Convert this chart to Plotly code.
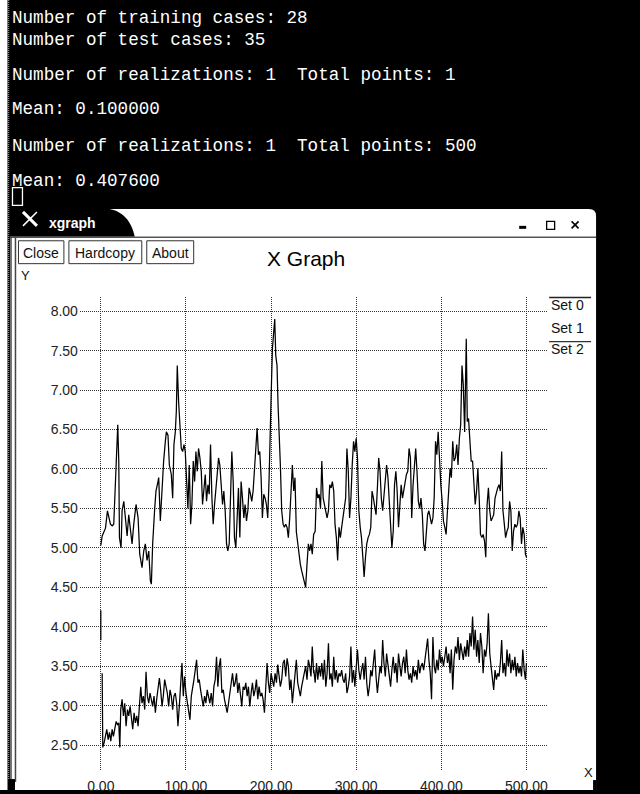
import plotly.graph_objects as go

W, H = 640, 794

# ---------------- data ----------------
set0_x = [0.0, 0.0]
set0_y = [4.21, 3.83]

set1_x = [
    0.0, 1.6, 5.5, 7.8, 11.3, 13.3, 15.2, 16.4, 18.0, 19.9,
    21.1, 21.9, 23.8, 25.0, 27.0, 28.9, 30.9, 32.8, 34.8, 36.7,
    38.7, 41.4, 43.8, 45.7, 48.4, 50.4, 52.3, 54.3, 56.3, 58.2,
    59.4, 60.9, 63.3, 64.8, 66.4, 68.0, 69.9, 71.9, 73.8, 75.8,
    77.0, 78.9, 80.5, 82.8, 84.4, 85.9, 87.5, 88.7, 89.8, 91.4,
    93.0, 94.5, 96.1, 97.7, 99.2, 100.8, 102.3, 103.9, 105.5, 107.0,
    108.6, 110.2, 111.7, 113.3, 114.8, 116.4, 118.0, 119.5, 121.1, 122.7,
    124.2, 125.8, 127.3, 128.9, 130.5, 132.0, 133.6, 135.2, 136.7, 138.3,
    139.8, 141.4, 143.0, 144.5, 146.1, 147.7, 149.2, 150.8, 152.3, 153.9,
    155.5, 157.0, 158.6, 160.2, 161.7, 163.3, 164.8, 166.4, 168.0, 169.5,
    171.1, 172.7, 174.2, 175.8, 177.3, 178.9, 180.5, 182.0, 183.6, 185.2,
    186.7, 188.3, 189.8, 191.4, 193.0, 194.5, 196.1, 197.7, 199.2, 200.0,
    201.6, 203.1, 204.3, 205.5, 207.0, 208.2, 209.4, 210.9, 212.5, 214.1,
    215.6, 217.2, 218.8, 220.3, 221.9, 223.4, 225.0, 226.6, 228.1, 229.7,
    231.3, 232.8, 234.4, 235.9, 237.5, 239.1, 240.6, 242.2, 243.8, 245.3,
    246.9, 248.4, 250.0,
    251.8, 253.4, 254.9, 256.5, 258.1, 259.6, 261.2, 262.7, 264.3, 265.8,
    267.4, 268.9, 270.5, 272.0, 273.6, 275.1, 276.7, 278.2, 279.8, 281.4,
    282.9, 284.5, 286.0, 287.6, 289.1, 290.7, 292.2, 293.8, 295.3, 296.9,
    298.4, 300.0, 301.5, 303.1, 304.7, 306.2, 307.8, 309.3, 310.9, 312.4,
    314.0, 315.5, 317.1, 318.6, 320.2, 321.7, 323.3, 324.9, 326.4, 328.0,
    329.5, 331.1, 332.6, 334.2, 335.7, 337.3, 338.8, 340.4, 341.9, 343.5,
    345.0, 346.6, 348.1, 349.7, 351.3, 352.8, 354.4, 355.9, 357.5, 359.0,
    360.6, 362.1, 363.7, 365.2, 366.8, 368.3, 369.9, 371.4, 373.0, 374.6,
    376.1, 377.7, 379.2, 380.8, 382.3, 383.9, 385.4, 387.0, 388.5, 390.1,
    391.6, 393.2, 394.7, 396.3, 397.9, 399.4, 401.0, 402.5, 404.1, 405.6,
    407.2, 408.7, 410.3, 411.8, 413.4, 414.9, 416.5, 418.1, 419.6, 421.2,
    422.7, 424.3, 425.8, 427.4, 428.1, 429.3, 430.5, 432.0, 433.6, 435.1,
    436.7, 438.2, 439.8, 441.4, 442.9, 444.5, 446.0, 447.6, 449.1, 450.7,
    452.2, 453.8, 455.3, 456.9, 458.4, 460.0, 461.5, 463.1, 464.7, 466.2,
    467.8, 469.3, 470.9, 472.4, 474.0, 475.5, 477.1, 478.6, 480.2, 481.7,
    483.3, 484.8, 486.4, 488.0, 489.5, 491.1, 492.6, 494.2, 495.7, 497.3,
    498.8, 500.0,
]
set1_y = [
    5.03, 5.15, 5.25, 5.47, 5.30, 5.28, 5.30, 5.67, 6.05, 6.56,
    6.10, 5.13, 5.00, 5.47, 5.59, 5.38, 5.15, 5.42, 5.20, 5.05,
    5.30, 5.55, 5.38, 4.92, 4.75, 4.96, 5.05, 4.84, 4.96, 4.58,
    4.54, 5.05, 5.50, 5.72, 5.80, 5.89, 5.34, 5.80, 6.10, 6.35,
    6.47, 6.43, 6.05, 5.93, 5.63, 6.31, 6.47, 6.73, 7.31, 6.85,
    6.47, 6.26, 6.22, 6.31, 6.22, 5.72, 5.50, 6.05, 5.30, 5.55,
    6.10, 5.84, 6.22, 5.97, 6.26, 6.14, 5.97, 5.55, 5.76, 5.93,
    5.59, 5.80, 5.68, 6.31, 5.63, 5.30, 5.55, 5.80, 5.93, 6.14,
    6.05, 5.80, 5.55, 5.72, 5.47, 5.05, 4.96, 5.05, 5.50, 6.22,
    5.84, 5.13, 5.00, 5.55, 5.76, 5.13, 5.84, 5.63, 5.38, 5.55,
    5.34, 5.47, 5.76, 5.68, 5.59, 5.72, 5.97, 6.31, 6.52, 6.18,
    6.22, 5.89, 5.38, 5.68, 5.63, 5.55, 5.38, 5.89, 6.39, 6.90,
    7.53, 7.70, 7.90, 7.44, 7.31, 6.81, 6.52, 6.05, 5.47, 5.30,
    5.26, 5.30, 5.26, 5.13, 5.38, 5.80, 6.05, 5.72, 5.89, 5.20,
    5.05, 4.92, 4.79, 4.71, 4.63, 4.54, 4.50, 4.79, 5.05, 4.96,
    5.05, 4.92, 5.17,
    5.21, 5.76, 5.63, 5.68, 5.50, 6.10, 5.63, 5.55, 5.50, 5.38,
    5.47, 5.80, 5.76, 5.84, 5.72, 5.30, 5.13, 4.84, 5.26, 5.13,
    5.26, 5.38, 5.55, 5.63, 6.26, 5.97, 5.38, 5.63, 6.05, 6.35,
    6.22, 6.39, 6.14, 5.47, 5.26, 5.13, 4.88, 4.63, 4.88, 5.05,
    5.13, 5.17, 5.26, 5.72, 5.63, 5.50, 5.42, 5.76, 6.14, 5.97,
    5.63, 5.47, 5.63, 5.80, 6.05, 5.89, 5.55, 5.17, 5.00, 5.21,
    5.80, 5.97, 5.72, 5.26, 5.55, 5.80, 5.63, 5.72, 5.80, 5.93,
    5.97, 6.26, 6.14, 5.38, 5.80, 6.10, 6.26, 5.97, 5.59, 5.50,
    5.63, 5.42, 5.05, 4.96, 5.17, 5.42, 5.47, 5.38, 5.30, 5.38,
    5.63, 6.35, 6.18, 6.47, 6.10, 5.80, 5.59, 5.34, 5.26, 5.17,
    5.47, 5.80, 6.01, 5.89, 6.35, 6.10, 6.14, 6.31, 6.05, 6.39,
    6.56, 7.31, 7.06, 6.47, 7.10, 7.65, 6.60, 6.64, 6.35, 6.10,
    6.10, 5.76, 5.55, 5.72, 6.01, 5.63, 5.17, 5.13, 5.17, 5.09,
    4.88, 5.55, 5.76, 5.47, 5.34, 5.38, 5.42, 5.63, 5.72, 5.76,
    5.80, 5.72, 6.22, 5.47, 5.30, 5.13, 5.21, 5.26, 5.59, 5.47,
    4.96, 5.21, 5.30, 5.26, 5.30, 5.47, 5.38, 5.05, 5.26, 5.17,
    4.92, 4.88,
]

set2_x = [
    1.6, 2.3, 3.9, 5.5, 7.0, 8.6, 10.2, 11.7, 13.3, 14.8,
    16.4, 18.0, 19.5, 21.1, 22.3, 23.4, 25.0, 26.6, 28.1, 29.7,
    31.3, 32.8, 34.4, 35.9, 37.5, 39.1, 40.6, 42.2, 43.8, 45.3,
    46.9, 48.4, 50.0, 51.6, 53.1, 54.7, 56.3, 57.8, 59.4, 60.9,
    62.5, 64.1, 65.6, 67.2, 68.8, 70.3, 71.9, 73.4, 75.0, 76.6,
    78.1, 79.7, 81.3, 82.8, 84.4, 85.9, 87.5, 89.1, 90.6, 92.2,
    93.8, 95.3, 96.9, 98.4, 100.0, 101.6, 103.1, 104.7, 106.3, 107.8,
    109.4, 110.9, 112.5, 114.1, 115.6, 117.2, 118.8, 120.3, 121.9, 123.4,
    125.0, 126.6, 128.1, 129.7, 131.3, 132.8, 134.4, 135.9, 137.5, 139.1,
    140.6, 142.2, 143.8, 145.3, 146.9, 148.4, 150.0, 151.6, 153.1, 154.7,
    156.3, 157.8, 159.4, 160.9, 162.5, 164.1, 165.6, 167.2, 168.8, 170.3,
    171.9, 173.4, 175.0, 176.6, 178.1, 179.7, 181.3, 182.8, 184.4, 185.9,
    187.5, 189.1, 190.6, 192.2, 193.8, 195.3, 196.9, 198.4, 200.0, 201.6,
    203.1, 204.7, 206.3, 207.8, 209.4, 210.9, 212.5, 214.1, 215.6, 217.2,
    218.8, 220.3, 221.9, 223.4, 225.0, 226.6, 228.1, 229.7, 231.3, 232.8,
    234.4, 235.9, 237.5, 239.1, 240.6, 242.2, 243.8, 245.3, 246.9, 248.4,
    250.0,
    250.3, 251.8, 253.4, 254.9, 256.5, 258.1, 259.6, 261.2, 262.7, 264.3,
    265.8, 267.4, 268.9, 270.5, 272.0, 273.6, 275.1, 276.7, 278.2, 279.8,
    281.4, 282.9, 284.5, 286.0, 287.6, 289.1, 290.7, 292.2, 293.8, 295.3,
    296.9, 298.4, 300.0, 301.5, 303.1, 304.7, 306.2, 307.8, 309.3, 310.9,
    312.4, 314.0, 315.5, 317.1, 318.6, 320.2, 321.7, 323.3, 324.9, 326.4,
    328.0, 329.5, 331.1, 332.6, 334.2, 335.7, 337.3, 338.8, 340.4, 341.9,
    343.5, 345.0, 346.6, 348.1, 349.7, 351.3, 352.8, 354.4, 355.9, 357.5,
    359.0, 360.6, 362.1, 363.7, 365.2, 366.8, 368.3, 369.9, 371.4, 373.0,
    374.6, 376.1, 377.7, 379.2, 380.8, 382.3, 383.9, 385.4, 387.0, 388.5,
    390.1, 391.6, 393.2, 394.7, 396.3, 397.9, 399.4, 401.0, 402.5, 404.1,
    405.6, 407.2, 408.7, 410.3, 411.8, 413.4, 414.9, 416.5, 418.1, 419.6,
    421.2, 422.7, 424.3, 425.8, 427.4, 428.9, 430.5, 432.0, 433.6, 435.1,
    436.7, 438.2, 439.8, 441.4, 442.9, 444.5, 446.0, 447.6, 449.1, 450.7,
    452.2, 453.8, 455.3, 456.9, 458.4, 460.0, 461.5, 463.1, 464.7, 466.2,
    467.8, 469.3, 470.9, 472.4, 474.0, 475.5, 477.1, 478.6, 480.2, 481.7,
    483.3, 484.8, 486.4, 488.0, 489.5, 491.1, 492.6, 494.2, 495.7, 497.3,
    498.8, 500.0,
]
set2_y = [
    3.41, 2.47, 2.53, 2.61, 2.70, 2.57, 2.66, 2.55, 2.70, 2.61,
    2.74, 2.80, 2.76, 2.78, 2.47, 2.95, 3.08, 2.87, 3.03, 2.74,
    2.95, 2.87, 2.99, 2.82, 2.70, 2.91, 2.78, 2.87, 2.74, 2.99,
    3.24, 3.03, 3.12, 2.95, 3.43, 3.12, 3.03, 3.16, 3.08, 2.99,
    3.12, 2.91, 3.08, 3.24, 3.35, 3.20, 2.99, 3.12, 3.33, 3.24,
    3.16, 2.99, 3.20, 3.12, 2.95, 3.12, 3.16, 3.03, 2.74, 2.99,
    3.33, 3.54, 3.12, 3.37, 3.16, 3.03, 2.95, 2.82, 3.12, 3.20,
    3.33, 3.45, 3.58, 3.29, 3.33, 3.20, 3.08, 2.99, 3.12, 3.03,
    3.20, 3.12, 3.03, 3.16, 2.99, 3.24, 3.33, 3.62, 3.24, 3.50,
    3.60, 3.16, 3.20, 3.08, 2.99, 2.91, 3.03, 3.16, 3.33, 3.41,
    3.24, 3.29, 3.41, 3.16, 3.29, 3.12, 2.99, 3.24, 3.20, 3.29,
    3.12, 3.24, 2.99, 3.16, 3.29, 3.12, 3.20, 3.33, 3.08, 3.24,
    3.12, 3.16, 3.08, 2.91, 3.20, 3.54, 3.29, 3.16, 3.41, 3.33,
    3.24, 3.41, 3.29, 3.52, 3.37, 3.24, 3.33, 3.54, 3.58, 3.37,
    3.60, 3.50, 3.20, 3.33, 3.03, 3.24, 3.37, 3.58, 3.29, 3.20,
    3.12, 3.24, 3.33, 3.41, 3.50, 3.33, 3.58, 3.50, 3.37, 3.75,
    3.41,
    3.45, 3.29, 3.54, 3.33, 3.50, 3.37, 3.54, 3.33, 3.58, 3.24,
    3.41, 3.79, 3.33, 3.41, 3.24, 3.62, 3.33, 3.45, 3.29, 3.41,
    3.37, 3.45, 3.33, 3.29, 3.41, 3.16, 3.24, 3.37, 3.75, 3.29,
    3.45, 3.24, 3.50, 3.71, 3.45, 3.33, 3.45, 3.54, 3.33, 3.62,
    3.29, 3.12, 3.24, 3.45, 3.37, 3.54, 3.71, 3.37, 3.16, 3.33,
    3.50, 3.41, 3.83, 3.54, 3.37, 3.66, 3.50, 3.33, 3.24, 3.45,
    3.62, 3.41, 3.54, 3.29, 3.66, 3.50, 3.37, 3.54, 3.62, 3.41,
    3.71, 3.45, 3.33, 3.41, 3.29, 3.50, 3.37, 3.45, 3.33, 3.58,
    3.41, 3.50, 3.54, 3.45, 3.58, 3.71, 3.85, 3.58, 3.41, 3.08,
    3.87, 3.50, 3.41, 3.58, 3.45, 3.71, 3.54, 3.62, 3.50, 3.62,
    3.75, 3.54, 3.66, 3.41, 3.71, 3.20, 3.58, 3.75, 3.66, 3.87,
    3.58, 3.79, 3.66, 3.58, 3.75, 3.62, 3.83, 3.62, 3.92, 3.75,
    4.13, 3.71, 3.96, 3.62, 3.83, 3.54, 3.92, 3.75, 3.41, 3.71,
    3.62, 3.79, 4.17, 3.66, 3.50, 3.37, 3.20, 3.45, 3.33, 3.41,
    3.37, 3.54, 3.83, 3.41, 3.54, 3.37, 3.71, 3.50, 3.66, 3.41,
    3.58, 3.45, 3.62, 3.37, 3.54, 3.41, 3.50, 3.37, 3.71, 3.45,
    3.33, 3.54,
]

y_ticks = [2.5, 3.0, 3.5, 4.0, 4.5, 5.0, 5.5, 6.0, 6.5, 7.0, 7.5, 8.0]
x_ticks = [0, 100, 200, 300, 400, 500]
legend_names = ["Set 0", "Set 1", "Set 2"]

terminal_lines = [
    "Number of training cases: 28",
    "Number of test cases: 35",
    "Number of realizations: 1\u00a0 Total points: 1",
    "Mean: 0.100000",
    "Number of realizations: 1\u00a0 Total points: 500",
    "Mean: 0.407600",
]
buttons = ["Close", "Hardcopy", "About"]

# ---------------- helpers for pixel placement of decorations ----------------
def px(x):
    return x / W


def py(y):
    return 1 - y / H


def n2(a, b):
    n = min(len(a), len(b))
    return a[:n], b[:n]


fig = go.Figure()
LINE = dict(color="#000000", width=1.25)
for (xs, ys), name in zip([n2(set0_x, set0_y), n2(set1_x, set1_y), n2(set2_x, set2_y)], legend_names):
    fig.add_trace(go.Scatter(x=xs, y=ys, mode="lines", line=LINE, name=name,
                             showlegend=False, hoverinfo="skip"))

shapes = []


def rect(x0, y0, x1, y1, fill=None, line_color=None, lw=1, layer="below"):
    d = dict(type="rect", xref="paper", yref="paper",
             x0=px(x0), x1=px(x1), y0=py(y1), y1=py(y0), layer=layer)
    d["fillcolor"] = fill if fill else "rgba(0,0,0,0)"
    d["line"] = dict(color=line_color, width=lw) if line_color else dict(width=0)
    shapes.append(d)


def seg(x0, y0, x1, y1, color, lw=1, dash="solid", layer="below"):
    shapes.append(dict(type="line", xref="paper", yref="paper",
                       x0=px(x0), x1=px(x1), y0=py(y0), y1=py(y1),
                       line=dict(color=color, width=lw, dash=dash), layer=layer))


def path(points_cmds, fill, layer="below"):
    s = ""
    for cmd, pts in points_cmds:
        s += cmd + " " + " ".join(f"{px(a):.5f},{py(b):.5f}" for a, b in pts) + " "
    s += "Z"
    shapes.append(dict(type="path", xref="paper", yref="paper", path=s,
                       fillcolor=fill, line=dict(width=0), layer=layer))


# left white strip + dotted border
rect(0, 0, 7.5, 794, fill="#ffffff")
seg(8.5, 0, 8.5, 794, "#8a8a8a", 1.5, "1px,1px")
# window body (white, rounded top-right corner)
path([("M", [(10, 210)]), ("L", [(590, 210)]), ("Q", [(597, 210), (597, 217)]),
      ("L", [(597, 794)]), ("L", [(10, 794)])], "#ffffff")
# black title tab
path([("M", [(10, 209)]), ("L", [(100, 209)]), ("C", [(121, 209), (131, 220), (135, 238)]),
      ("L", [(10, 238)])], "#000000")
# title bar separator and left double border
seg(10, 238.5, 597, 238.5, "#555555", 1.5)
seg(11, 238, 11, 786, "#444444", 1.5)
seg(15.5, 238, 15.5, 786, "#444444", 1.5)
rect(8, 783, 15, 794, fill="#000000")
rect(594, 784, 597, 794, fill="#000000")
# window controls
rect(520, 227, 527, 230, fill="#000000")
rect(547.5, 222.5, 555.5, 230.5, line_color="#000000", lw=1.3)
seg(572.5, 222.5, 579.5, 229.5, "#000000", 1.6)
seg(579.5, 222.5, 572.5, 229.5, "#000000", 1.6)
# X logo in tab
seg(23, 213, 37, 227, "#ffffff", 3)
seg(37, 213, 23, 227, "#ffffff", 1.5)
# buttons
btn_boxes = [(18.5, 64), (69, 142), (147, 194)]
for (x0, x1) in btn_boxes:
    rect(x0, 242, x1, 265, line_color="#333333", lw=1)
# terminal cursor
rect(12.5, 188.5, 22.5, 206.5, line_color="#ffffff", lw=1.3)
# legend sample lines
seg(550, 299, 592, 299, "#222222", 1.3, layer="above")
seg(550, 343.3, 592, 343.3, "#333333", 1.3, layer="above")

annotations = []


def text(x, y, s, size, color="#000000", family="Liberation Sans", xanchor="left",
         bold=False):
    annotations.append(dict(xref="paper", yref="paper", x=px(x), y=py(y),
                            text=(f"<b>{s}</b>" if bold else s),
                            showarrow=False, xanchor=xanchor, yanchor="middle", borderpad=0,
                            font=dict(size=size, color=color, family=family)))


term_y = [18.5, 40, 75, 110, 147, 182]
for s, yy in zip(terminal_lines, term_y):
    text(11, yy, s, 17.6, "#ffffff", "Liberation Mono")

text(48, 224, "xgraph", 14, "#ffffff", bold=True)
for s, (x0, x1) in zip(buttons, btn_boxes):
    text((x0 + x1) / 2, 254, s, 14, "#111111", xanchor="center")
text(20, 277, "Y", 13, "#111111")
text(306, 260, "X Graph", 21, "#000000", xanchor="center")
text(589, 776, "X", 13, "#111111", xanchor="center")
leg_y = [306.5, 329.3, 351]
for s, yy in zip(legend_names, leg_y):
    text(551, yy, s, 14, "#111111")

AX_FONT = dict(family="Liberation Sans", size=14, color="#222222")
fig.update_layout(
    width=W, height=H,
    margin=dict(l=0, r=0, t=0, b=0),
    paper_bgcolor="#000000",
    plot_bgcolor="rgba(0,0,0,0)",
    shapes=shapes,
    annotations=annotations,
    showlegend=False,
    xaxis=dict(domain=[80 / W, 548 / W], range=[-24.6, 524.3],
               tickvals=x_ticks, ticktext=[f"{v:.2f}" for v in x_ticks],
               showgrid=True, gridcolor="#333333", gridwidth=1, griddash="1px,1px",
               zeroline=False, showline=False, ticks="", tickfont=AX_FONT,
               ticklabelstandoff=5),
    yaxis=dict(domain=[1 - 775 / H, 1 - 298.5 / H], range=[2.17, 8.18],
               tickvals=y_ticks, ticktext=[f"{v:.2f}" for v in y_ticks],
               showgrid=True, gridcolor="#333333", gridwidth=1, griddash="1px,1px",
               zeroline=False, showline=False, ticks="", tickfont=AX_FONT,
               ticklabelstandoff=1),
)

fig.write_html("out.html", config={"displayModeBar": False},
               post_script="document.body.style.margin='0';document.body.style.overflow='hidden';")
